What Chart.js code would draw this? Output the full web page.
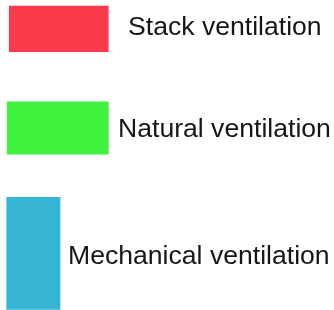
<!DOCTYPE html>
<html>
<head>
<meta charset="utf-8">
<script src="https://cdn.jsdelivr.net/npm/chart.js@4"></script>
<style>
  html, body { margin: 0; padding: 0; background: #fff; }
  #wrap { width: 334px; height: 310px; }
</style>
</head>
<body>
<div id="wrap"><canvas id="myChart"></canvas></div>
<script>
"use strict";

// legend rows (units = chart units on a 0..334 / 0..310 grid)
const labels = ['Stack ventilation', 'Natural ventilation', 'Mechanical ventilation'];
const boxStart = [9.3, 7.3, 6.7];
const boxEnd = [108.3, 108.3, 60];
const rowCenter = [28.9, 127.9, 253.3];
const textX = [128, 118, 68];
const textBaseline = [35, 137, 264];

const colors = ['#fb3b4b', '#3ef23e', '#36b5d5'];
const heights = [45.7, 52.3, 112];

// draw the words next to each box
const labelPlugin = {
    id: 'rowLabels',
    afterDatasetsDraw(chart) {
        const ctx = chart.ctx;
        const xs = chart.scales.x;
        const ys = chart.scales.y;
        ctx.save();
        ctx.fillStyle = '#161616';
        ctx.font = '26.6px "Liberation Sans", Arial, sans-serif';
        ctx.textBaseline = 'alphabetic';
        ctx.textAlign = 'left';
        for (let i = 0; i < labels.length; i++) {
            ctx.fillText(labels[i], xs.getPixelForValue(textX[i]), ys.getPixelForValue(textBaseline[i]));
        }
        ctx.restore();
    }
};

const datasets = [];
for (let i = 0; i < labels.length; i++) {
    datasets.push({
        label: labels[i],
        data: [{ y: rowCenter[i], x: [boxStart[i], boxEnd[i]] }],
        backgroundColor: colors[i],
        borderWidth: 0,
        barThickness: heights[i],
        grouped: false,
        clip: false
    });
}

const ctx = document.getElementById('myChart').getContext('2d');
new Chart(ctx, {
    type: 'bar',
    data: { datasets: datasets },
    options: {
        indexAxis: 'y',
        responsive: true,
        maintainAspectRatio: false,
        animation: false,
        layout: { padding: 0 },
        plugins: {
            legend: { display: false },
            tooltip: { enabled: false }
        },
        scales: {
            x: { type: 'linear', min: 0, max: 334, offset: false, display: false },
            y: { type: 'linear', min: 0, max: 310, reverse: true, offset: false, display: false }
        }
    },
    plugins: [labelPlugin]
});
</script>
</body>
</html>
